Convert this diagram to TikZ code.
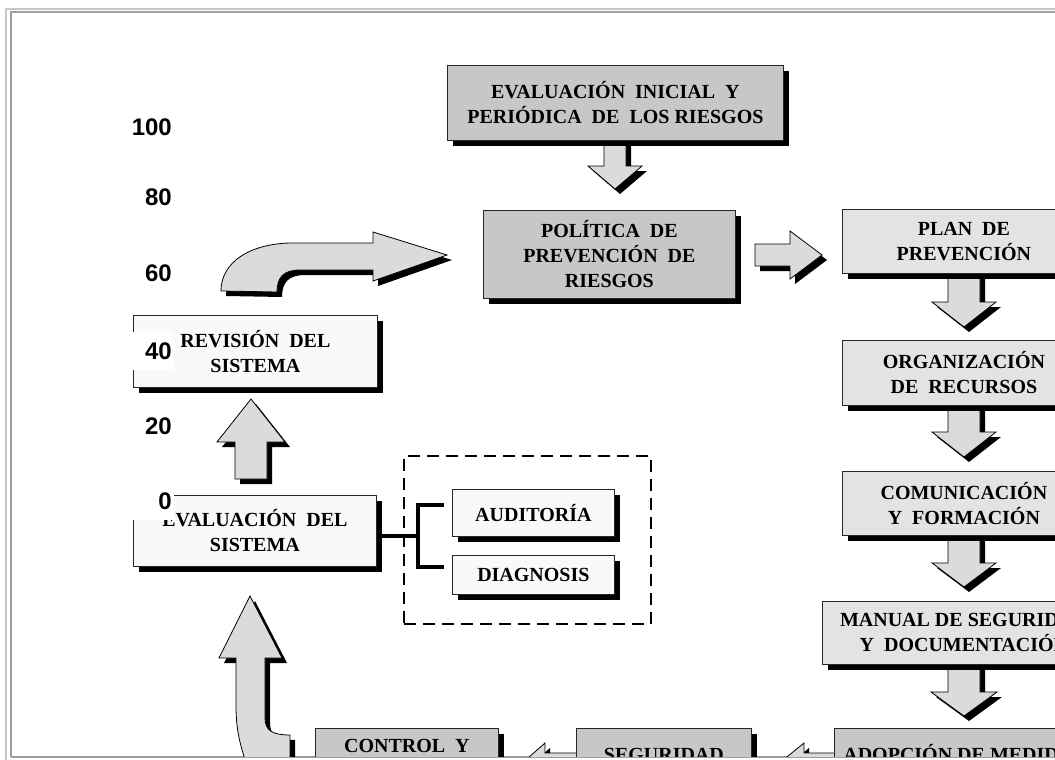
\documentclass[tikz,border=0pt]{standalone}
\usepackage{fontspec}
\setmainfont{Liberation Serif}
\newfontfamily\numfont{Liberation Sans}
\usetikzlibrary{calc}
\definecolor{dkgray}{gray}{0.78}
\definecolor{ltgray}{gray}{0.89}
\definecolor{whgray}{gray}{0.975}
\definecolor{argray}{gray}{0.86}
\definecolor{frameA}{gray}{0.78}
\definecolor{frameB}{gray}{0.62}
\tikzset{
  shad/.style={preaction={fill=black, transform canvas={shift={(#1pt,-#1pt)}}}},
  boxbase/.style={draw=black!85, line width=0.8pt, shad=6, align=center, inner sep=0pt,
    font=\fontsize{20}{25}\selectfont\bfseries, anchor=north west},
  darkbox/.style={boxbase, fill=dkgray},
  litebox/.style={boxbase, fill=ltgray},
  whitebox/.style={boxbase, fill=whgray},
  boxlabel/.style={font=\fontsize{20}{25}\selectfont\bfseries, inner sep=0pt, anchor=base},
  blockarrow/.style={fill=argray, draw=black, line width=0.8pt, shad=5, line join=miter},
  numlabel/.style={fill=white, font=\numfont\fontsize{24}{24}\selectfont\bfseries,
    text width=50pt, align=right, inner xsep=2pt, inner ysep=0pt, minimum height=38pt, anchor=east},
  bracketline/.style={line width=3.5pt, black},
  groupbox/.style={draw=black, line width=2pt, dash pattern=on 12pt off 7pt, anchor=north west, inner sep=0pt},
}
% block arrow macros: vertical (cx, ystart, ybase, ytip, shaft half, head half)
\newcommand{\blkvert}[6]{\path[blockarrow] ({#1-#5},#2) -- ({#1+#5},#2) -- ({#1+#5},#3) -- ({#1+#6},#3) -- (#1,#4) -- ({#1-#6},#3) -- ({#1-#5},#3) -- cycle;}
% horizontal (cy, xstart, xbase, xtip, shaft half, head half)
\newcommand{\blkhorz}[6]{\path[blockarrow] (#2,{#1-#5}) -- (#3,{#1-#5}) -- (#3,{#1-#6}) -- (#4,#1) -- (#3,{#1+#6}) -- (#3,{#1+#5}) -- (#2,{#1+#5}) -- cycle;}
\begin{document}
\begin{tikzpicture}[x=1pt,y=-1pt]
\useasboundingbox (0,0) rectangle (1055,760);
\fill[white] (0,0) rectangle (1055,760);
% frame
\draw[frameA, line width=2pt] (6,760) -- (6,9) -- (1055,9);
\draw[frameB, line width=2pt] (10.5,757) -- (10.5,12) -- (1055,12);
\draw[frameB, line width=2pt] (10.5,757) -- (1055,757);
\begin{scope}
\clip (11.5,13) rectangle (1055,756);
% arrows (drawn first, boxes cover their tails)
\blkvert{615}{135}{166}{189}{11}{27}
\blkhorz{255}{755}{790}{822}{11}{24}
\blkvert{964}{268}{302}{327}{16}{32}
\blkvert{964}{400}{432}{457}{16}{32}
\blkvert{964}{530}{563}{587}{16}{32}
\blkvert{964}{659}{692}{716}{16}{33}
\blkhorz{765}{838}{804}{777}{12}{22}
\blkhorz{765}{580}{545}{520}{12}{22}
\blkvert{251}{479}{442}{399}{16}{34}
% curved arrow: revision -> politica
\path[blockarrow] (221,291) .. controls (221,262) and (250,244) .. (290,243) -- (373,243) -- (373,232) -- (447,255) -- (373,281) -- (373,270) -- (300,270) .. controls (283,270) and (277,278) .. (277,292) -- cycle;
% curved arrow: control -> evaluacion del sistema
\path[blockarrow] (250,596) -- (282,658) -- (265,658) -- (265,718) .. controls (265,731) and (273,735) .. (290,735) -- (290,775) -- (250,775) .. controls (242,750) and (236,735) .. (236,706) -- (236,658) -- (219,658) -- cycle;
% boxes
\node[darkbox, minimum width=336pt, minimum height=75pt] (evi) at (447,65) {EVALUACIÓN\ \ INICIAL\ \ Y\\PERIÓDICA\ \ DE\ \ LOS RIESGOS};
\node[darkbox, minimum width=252pt, minimum height=88pt] (pol) at (483,210) {POLÍTICA\ \ DE\\PREVENCIÓN\ \ DE\\RIESGOS};
\node[litebox, minimum width=243pt, minimum height=64pt] (plan) at (842,209) {PLAN\ \ DE\\PREVENCIÓN};
\node[litebox, minimum width=243pt, minimum height=65pt] (org) at (842,340) {ORGANIZACIÓN\\DE\ \ RECURSOS};
\node[litebox, minimum width=243pt, minimum height=64pt] (com) at (842,471) {COMUNICACIÓN\\Y\ \ FORMACIÓN};
\node[litebox, minimum width=283pt, minimum height=63pt] (man) at (822,601) {MANUAL DE SEGURIDAD\\Y\ \ DOCUMENTACIÓN};
\node[darkbox, minimum width=259pt, minimum height=80pt] (adop) at (834,728) {};
\node[darkbox, minimum width=175pt, minimum height=80pt] (seg) at (576,728) {};
\node[darkbox, minimum width=183pt, minimum height=80pt] (ctrl) at (315,728) {};
\node[boxlabel] (adoplbl) at ($(adop.north)+(0,33)$) {ADOPCIÓN DE MEDIDAS};
\node[boxlabel] (seglbl) at ($(seg.north)+(0,33)$) {SEGURIDAD};
\node[boxlabel] (ctrllbl) at ($(ctrl.north)+(0,24)$) {CONTROL\ \ Y};
\node[whitebox, minimum width=244pt, minimum height=72pt] (rev) at (133,315) {REVISIÓN\ \ DEL\\SISTEMA};
\node[whitebox, minimum width=243pt, minimum height=71pt] (evs) at (133,495) {EVALUACIÓN\ \ DEL\\SISTEMA};
% group of audit / diagnosis
\node[groupbox, minimum width=247pt, minimum height=168pt] (grp) at (403,455) {};
\node[whitebox, minimum width=162pt, minimum height=47pt] (aud) at (452,489) {AUDITORÍA};
\node[whitebox, minimum width=162pt, minimum height=39pt] (dia) at (452,555) {DIAGNOSIS};
\coordinate (bmid) at (418,536);
\coordinate (btop) at (418,505);
\coordinate (bbot) at (418,567);
\draw[bracketline] (evs.east |- bmid) -- (bmid);
\draw[bracketline] ([xshift=-8pt]aud.west |- btop) -- (btop) -- (bbot) -- ([xshift=-8pt]dia.west |- bbot);
% axis numbers
\node[numlabel] (n100) at (174,127) {100};
\node[numlabel] (n80) at (174,197) {80};
\node[numlabel] (n60) at (174,273) {60};
\node[numlabel] (n40) at (174,351) {40};
\node[numlabel] (n20) at (174,426) {20};
\node[numlabel] (n0) at (174,501) {0};
\end{scope}
\end{tikzpicture}
\end{document}
